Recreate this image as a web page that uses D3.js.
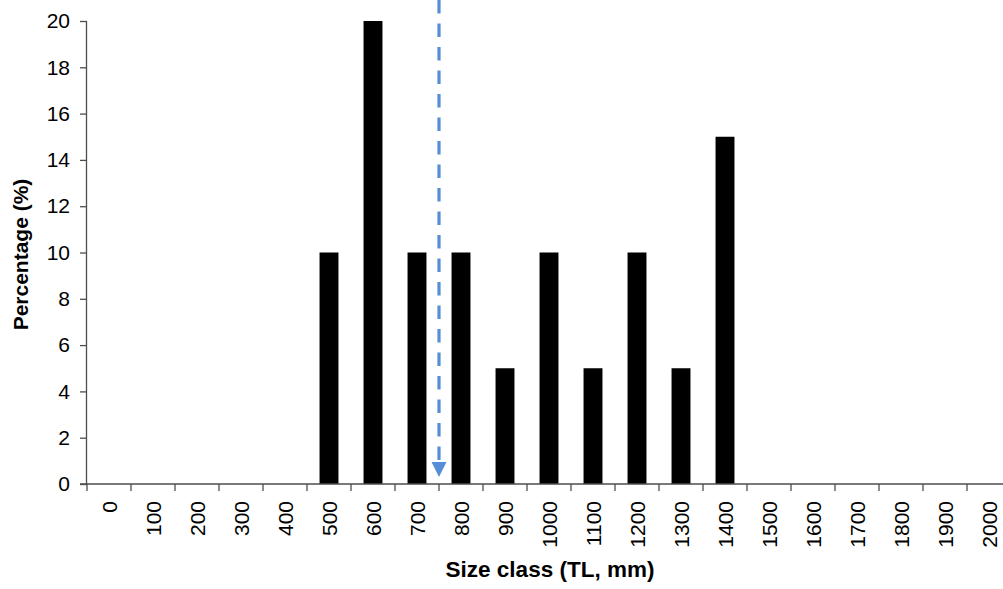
<!DOCTYPE html>
<html>
<head>
<meta charset="utf-8">
<script src="https://cdn.jsdelivr.net/npm/d3@7"></script>
<style>
  html, body { margin: 0; padding: 0; background: #fff; }
  svg { display: block; }
  text { font-family: "Liberation Sans", Arial, sans-serif; fill: #000; }
</style>
</head>
<body>
<svg id="chart" width="1003" height="589"></svg>
<script>
const categories = ["0","100","200","300","400","500","600","700","800","900","1000","1100","1200","1300","1400","1500","1600","1700","1800","1900","2000"];
const percentages = [0,0,0,0,0,10,20,10,10,5,10,5,10,5,15,0,0,0,0,0,0];
const yTicks = [0,2,4,6,8,10,12,14,16,18,20];
const markerBoundary = ["700","800"]; // arrow drawn between these classes
const xTitle = "Size class (TL, mm)";
const yTitle = "Percentage (%)";

const svg = d3.select("#chart");
const mLeft = 87, mRight = 1011, mTop = 21, mBottom = 484;

const x = d3.scaleBand().domain(categories).range([mLeft, mRight]).paddingInner(0).paddingOuter(0);
const y = d3.scaleLinear().domain([0, 20]).range([mBottom, mTop]);

const axisColor = "#4d4d4d";
const barW = x.bandwidth() * 0.43;
const fs = 21;

// bars
svg.append("g").selectAll("rect")
  .data(categories.map((c, i) => ({c, v: percentages[i]})).filter(d => d.v > 0))
  .join("rect")
  .attr("x", d => x(d.c) + (x.bandwidth() - barW) / 2)
  .attr("y", d => y(d.v))
  .attr("width", barW)
  .attr("height", d => y(0) - y(d.v))
  .attr("fill", "#000");

// y axis
const yAxis = svg.append("g").attr("transform", `translate(${mLeft},0)`)
  .call(d3.axisLeft(y).tickValues(yTicks).tickSize(7).tickPadding(10));
yAxis.attr("font-size", fs).attr("font-family", "Liberation Sans, Arial, sans-serif");
yAxis.select(".domain").attr("stroke", axisColor).attr("stroke-width", 1.3).attr("d", `M-0.5,${mBottom}V${mTop}`);
yAxis.selectAll(".tick line").attr("stroke", axisColor).attr("stroke-width", 1.3);
yAxis.selectAll("text").style("font-size", fs + "px").attr("fill", "#000");

// x axis: ticks at band boundaries
const xg = svg.append("g").attr("transform", `translate(0,${mBottom})`);
xg.append("line").attr("x1", mLeft - 7).attr("x2", mRight).attr("y1", 0).attr("y2", 0)
  .attr("stroke", axisColor).attr("stroke-width", 1.3);
const boundaries = categories.map(c => x(c)).concat([mRight]);
xg.selectAll("line.tk").data(boundaries).join("line").attr("class", "tk")
  .attr("x1", d => d).attr("x2", d => d).attr("y1", 0).attr("y2", 7)
  .attr("stroke", axisColor).attr("stroke-width", 1.3);
xg.selectAll("text.lbl").data(categories).join("text").attr("class", "lbl")
  .attr("transform", d => `translate(${x(d) + x.bandwidth() / 2},${17}) rotate(-90)`)
  .attr("text-anchor", "end")
  .attr("dominant-baseline", "central")
  .style("font-size", fs + "px")
  .text(d => d);

// dashed arrow
const ax = x(markerBoundary[1]);
const tipY = y(0) - 7;
svg.append("line")
  .attr("x1", ax).attr("x2", ax).attr("y1", 0).attr("y2", tipY - 12)
  .attr("stroke", "#558ED5").attr("stroke-width", 3.2)
  .attr("stroke-dasharray", "13.5,10");
svg.append("path")
  .attr("d", `M${ax - 7.5},${tipY - 15}L${ax + 7.5},${tipY - 15}L${ax},${tipY}Z`)
  .attr("fill", "#558ED5");

// titles
svg.append("text").attr("x", 550).attr("y", 577)
  .attr("text-anchor", "middle").attr("font-weight", "bold").style("font-size", "22.5px")
  .text(xTitle);
svg.append("text").attr("transform", `translate(28,254.5) rotate(-90)`)
  .attr("text-anchor", "middle").attr("font-weight", "bold").style("font-size", "21px")
  .text(yTitle);
</script>
</body>
</html>
